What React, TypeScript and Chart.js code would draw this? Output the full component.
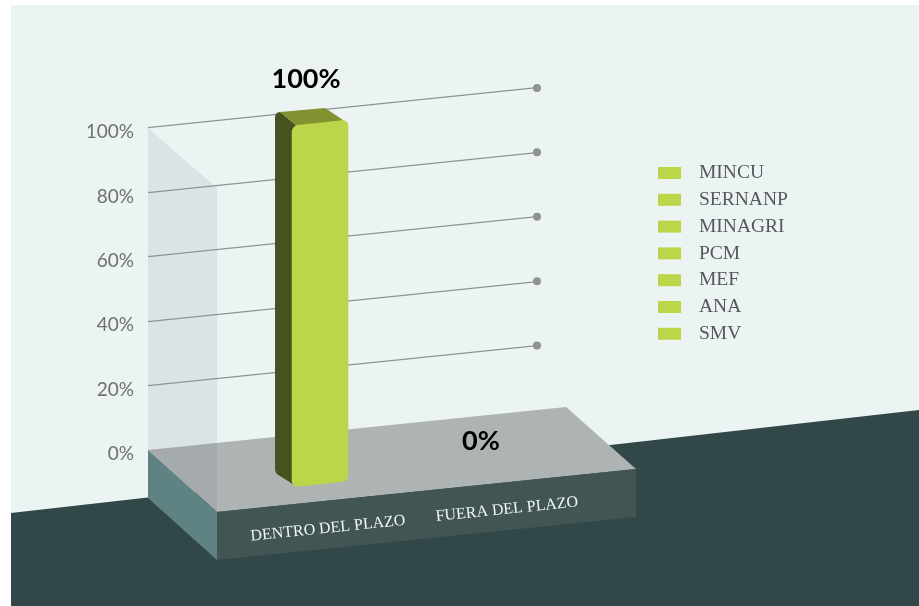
import React, { useEffect, useRef } from "react";
import { Chart, registerables } from "chart.js";

Chart.register(...registerables);

// Data
const categories = ["DENTRO DEL PLAZO", "FUERA DEL PLAZO"];
const values = [100, 0];
const entities = ["MINCU", "SERNANP", "MINAGRI", "PCM", "MEF", "ANA", "SMV"];

// Palette
const PANEL = "#EBF3F3";
const GROUND = "#324748";
const FLOOR_TOP = "#AEB3B4";
const FLOOR_FRONT = "#415554";
const FLOOR_SIDE = "#5F8282";
const WALL = "rgba(95,110,125,0.115)";
const BAR_FRONT = "#BBD648";
const BAR_SIDE = "#47531F";
const BAR_TOP = "#839230";
const GRID = "#8E9292";

const W = 919;
const H = 606;
const SLOPE = 0.103;
const PLOT_LEFT = 148;
const PLOT_TOP = 128;
const PLOT_BOTTOM = 450;
const PLOT_RIGHT = 537;

// Plane that the columns stand on: maps chart coordinates to the sheared, stretched depth plane.
const BAR = { a: 0.92, b: -0.0985, k: 1.1227, e: 94.4, f: 3.46 };
const DEPTH = { x: -17, y: -14 };
const mapPoint = (x: number, y: number): [number, number] => [
  BAR.a * x + BAR.e,
  BAR.b * x + BAR.k * y + BAR.f,
];

function poly(ctx: CanvasRenderingContext2D, pts: number[][], fill: string) {
  ctx.beginPath();
  pts.forEach(([x, y], i) => (i ? ctx.lineTo(x, y) : ctx.moveTo(x, y)));
  ctx.closePath();
  ctx.fillStyle = fill;
  ctx.fill();
}

const stage = {
  id: "stage",
  // Backdrop, floor slab and translucent side wall, then the shear used by the grid lines.
  beforeDraw(chart: any) {
    const ctx: CanvasRenderingContext2D = chart.ctx;
    ctx.save();
    ctx.fillStyle = "#FFFFFF";
    ctx.fillRect(0, 0, W, H);
    ctx.fillStyle = PANEL;
    ctx.fillRect(11, 5, W - 11, H - 5);
    poly(ctx, [[11, 513], [W, 410], [W, H], [11, H]], GROUND);
    poly(ctx, [[148, 450], [566, 407], [636, 469], [217, 512]], FLOOR_TOP);
    poly(ctx, [[217, 512], [636, 469], [636, 517], [217, 560]], FLOOR_FRONT);
    poly(ctx, [[148, 450], [217, 512], [217, 560], [148, 498]], FLOOR_SIDE);
    poly(ctx, [[148, 128], [217, 188], [217, 512], [148, 450]], WALL);
    ctx.restore();
    ctx.save();
    ctx.transform(1, -SLOPE, 0, 1, 0, SLOPE * PLOT_LEFT);
  },
  beforeDatasetsDraw(chart: any) {
    const ctx: CanvasRenderingContext2D = chart.ctx;
    ctx.restore();

    // Round caps at the far end of each grid line.
    const yScale = chart.scales.y;
    ctx.fillStyle = GRID;
    yScale.ticks.forEach((t: any) => {
      if (t.value === 0) return;
      const px = yScale.getPixelForValue(t.value);
      ctx.beginPath();
      ctx.arc(PLOT_RIGHT, px - SLOPE * (PLOT_RIGHT - PLOT_LEFT), 4, 0, Math.PI * 2);
      ctx.fill();
    });

    // Side and top faces of every non-empty column.
    chart.getDatasetMeta(0).data.forEach((bar: any, i: number) => {
      if (!values[i]) return;
      const l = bar.x - bar.width / 2;
      const r = bar.x + bar.width / 2;
      const [x0, y0] = mapPoint(l, bar.y);
      const [x1, y1] = mapPoint(r, bar.y);
      const [x2, y2] = mapPoint(l, bar.base);
      const dx = DEPTH.x;
      const dy = DEPTH.y;

      ctx.beginPath();
      ctx.moveTo(x0 + 7, y0 + 6);
      ctx.lineTo(x0 + 4, y0 - 1);
      ctx.lineTo(x0 + dx + 5, y0 + dy);
      ctx.quadraticCurveTo(x0 + dx, y0 + dy, x0 + dx, y0 + dy + 6);
      ctx.lineTo(x2 + dx, y2 + dy - 4);
      ctx.quadraticCurveTo(x2 + dx, y2 + dy, x2 + dx + 3, y2 + dy + 2);
      ctx.lineTo(x2 + 5, y2);
      ctx.lineTo(x2 + 7, y2 - 5);
      ctx.closePath();
      ctx.fillStyle = BAR_SIDE;
      ctx.fill();

      ctx.beginPath();
      ctx.moveTo(x0 + dx + 5, y0 + dy);
      ctx.lineTo(x1 + dx - 6, y1 + dy + 2);
      ctx.lineTo(x1 - 5, y1);
      ctx.lineTo(x1 - 8, y1 + 5);
      ctx.lineTo(x0 + 7, y0 + 5);
      ctx.lineTo(x0 + 4, y0 - 1);
      ctx.closePath();
      ctx.fillStyle = BAR_TOP;
      ctx.fill();
    });

    ctx.save();
    ctx.transform(BAR.a, BAR.b, 0, BAR.k, BAR.e, BAR.f);
  },
  afterDatasetsDraw(chart: any) {
    const ctx: CanvasRenderingContext2D = chart.ctx;
    ctx.restore();

    // Percentage above each column.
    const meta = chart.getDatasetMeta(0);
    const shift = [-14, -18];
    const lift = [44, 24];
    ctx.save();
    ctx.font = "bold 27px Lato";
    ctx.fillStyle = "#000000";
    ctx.textAlign = "center";
    ctx.textBaseline = "middle";
    meta.data.forEach((bar: any, i: number) => {
      const [x, y] = mapPoint(bar.x, bar.y);
      ctx.fillText(`${values[i]}%`, x + shift[i], y - lift[i]);
    });
    ctx.restore();

    // Category names, printed along the front edge of the slab.
    const xScale = chart.scales.x;
    ctx.save();
    ctx.font = "16px 'Liberation Serif'";
    ctx.fillStyle = "#F2F6F6";
    ctx.textAlign = "center";
    ctx.textBaseline = "middle";
    categories.forEach((label, i) => {
      const cx = BAR.a * xScale.getPixelForValue(i) + BAR.e + 8;
      const cy = i === 0 ? 528.5 : 509.5;
      ctx.save();
      ctx.translate(cx, cy);
      ctx.rotate(-Math.atan(SLOPE));
      ctx.fillText(label, 0, 0);
      ctx.restore();
    });
    ctx.restore();

    // Key on the right.
    ctx.save();
    ctx.font = "19.5px 'Liberation Serif'";
    ctx.textBaseline = "middle";
    ctx.textAlign = "left";
    entities.forEach((name, i) => {
      const y = 173 + i * 26.8;
      ctx.fillStyle = BAR_FRONT;
      ctx.fillRect(658, y - 6, 23, 12);
      ctx.fillStyle = "#55585A";
      ctx.fillText(name, 699, y);
    });
    ctx.restore();
  },
};

export default function App() {
  const ref = useRef<HTMLCanvasElement>(null);

  useEffect(() => {
    if (!ref.current) return;
    const chart = new Chart(ref.current, {
      type: "bar",
      data: {
        labels: categories,
        datasets: [
          {
            label: "Porcentaje",
            data: values,
            backgroundColor: (c: any) => (c.raw ? BAR_FRONT : "rgba(0,0,0,0)"),
            borderRadius: 6,
            borderSkipped: false,
            barThickness: 56 / BAR.a,
            clip: false,
          } as any,
        ],
      },
      options: {
        responsive: false,
        animation: false,
        devicePixelRatio: 1,
        layout: {
          padding: {
            left: PLOT_LEFT - 60,
            right: W - PLOT_RIGHT,
            top: PLOT_TOP,
            bottom: H - PLOT_BOTTOM,
          },
        },
        plugins: { legend: { display: false }, tooltip: { enabled: false } },
        scales: {
          x: { display: false, offset: true, grid: { display: false } },
          y: {
            min: 0,
            max: 100,
            afterFit: (s: any) => {
              s.width = 60;
            },
            border: { display: false },
            grid: {
              drawTicks: false,
              lineWidth: 1.2,
              color: (c: any) => (c.tick?.value === 0 ? "rgba(0,0,0,0)" : GRID),
            },
            ticks: {
              z: 1,
              stepSize: 20,
              padding: 14,
              labelOffset: 4,
              color: "#6E7072",
              font: { family: "Lato", size: 19 },
              callback: (v: any) => `${v}%`,
            },
          },
        },
      },
      plugins: [stage],
    } as any);
    return () => chart.destroy();
  }, []);

  return (
    <div style={{ position: "absolute", left: 0, top: 0, width: W, height: H }}>
      <canvas ref={ref} width={W} height={H} style={{ display: "block" }} />
    </div>
  );
}
